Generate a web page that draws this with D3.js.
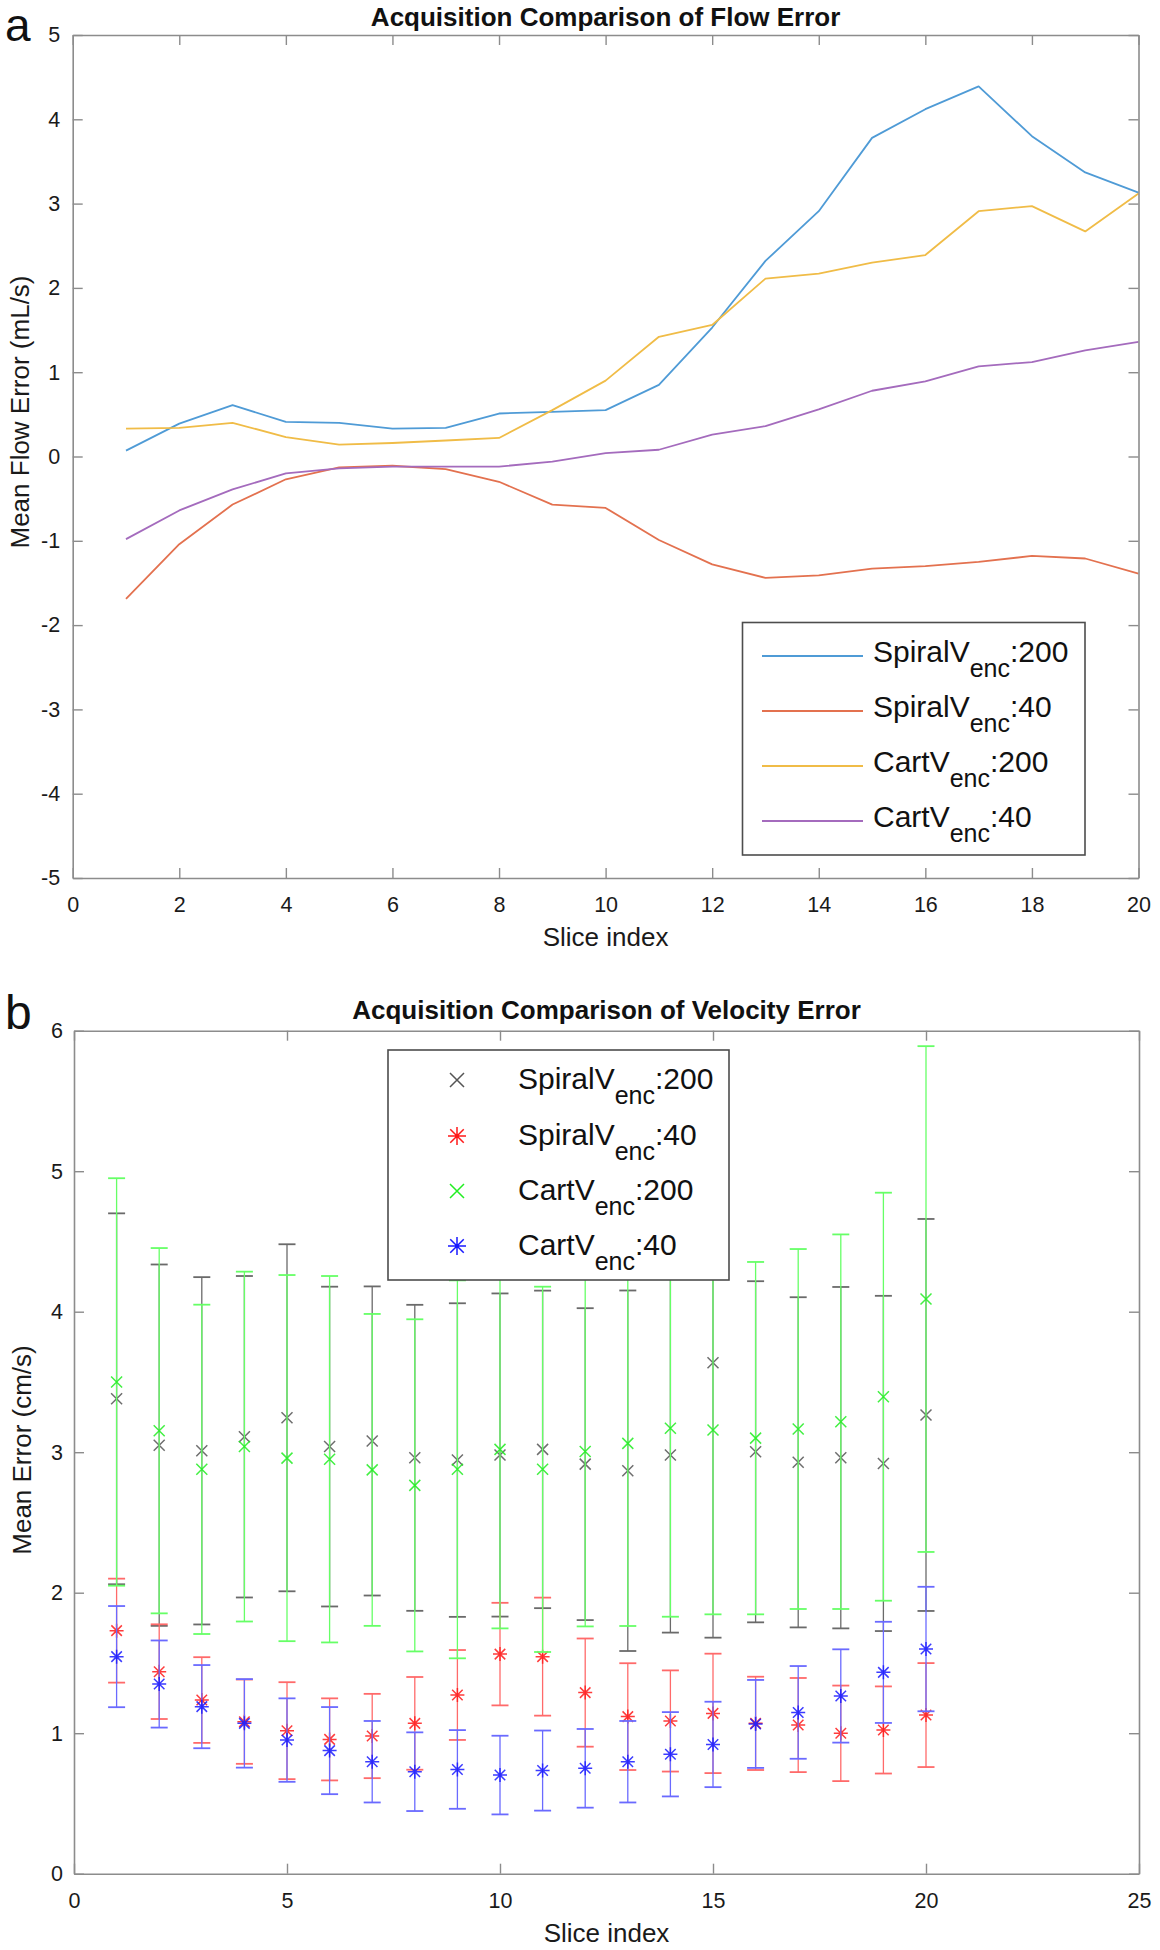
<!DOCTYPE html>
<html><head><meta charset="utf-8">
<script src="https://cdn.jsdelivr.net/npm/d3@7"></script>
<style>
body{margin:0;background:#fff}
svg{display:block}
text{font-family:"Liberation Sans",Arial,Helvetica,sans-serif}
</style>
</head><body>
<svg id="c" width="1160" height="1950"></svg>
<script>
// ---------- DATA ----------
const slices = [1,2,3,4,5,6,7,8,9,10,11,12,13,14,15,16,17,18,19,20];

// Panel a: mean flow error (mL/s)
const flowSpiral200 = [0.07,0.39,0.61,0.41,0.40,0.33,0.34,0.51,0.53,0.55,0.85,1.53,2.32,2.91,3.78,4.12,4.39,3.80,3.37,3.13];
const flowSpiral40  = [-1.69,-1.04,-0.57,-0.27,-0.13,-0.11,-0.15,-0.30,-0.57,-0.61,-0.99,-1.28,-1.44,-1.41,-1.33,-1.30,-1.25,-1.18,-1.21,-1.39];
const flowCart200   = [0.33,0.34,0.40,0.23,0.14,0.16,0.19,0.22,0.55,0.90,1.42,1.56,2.11,2.17,2.30,2.39,2.91,2.97,2.67,3.12];
const flowCart40    = [-0.98,-0.64,-0.39,-0.20,-0.14,-0.12,-0.12,-0.12,-0.06,0.04,0.08,0.26,0.36,0.56,0.78,0.89,1.07,1.12,1.26,1.36];

// Panel b: mean velocity error (cm/s) and symmetric error bar half-widths
const velSpiral200Mean = [3.38,3.05,3.01,3.11,3.245,3.04,3.08,2.96,2.944,2.98,3.02,2.915,2.868,2.98,3.637,3.003,2.928,2.961,2.92,3.265];
const velSpiral200Err  = [1.32,1.286,1.236,1.144,1.235,1.138,1.10,1.089,1.116,1.15,1.13,1.11,1.283,1.264,1.957,1.214,1.175,1.215,1.193,1.395];
const velSpiral40Mean  = [1.73,1.438,1.236,1.082,1.018,0.956,0.98,1.07,1.272,1.563,1.545,1.289,1.118,1.087,1.141,1.07,1.058,0.999,1.023,1.129];
const velSpiral40Err   = [0.37,0.337,0.305,0.30,0.345,0.292,0.30,0.33,0.32,0.365,0.42,0.385,0.38,0.36,0.425,0.332,0.335,0.34,0.31,0.37];
const velCart200Mean   = [3.50,3.153,2.878,3.04,2.958,2.95,2.874,2.764,2.878,3.02,2.878,3.005,3.063,3.17,3.158,3.10,3.165,3.217,3.395,4.09];
const velCart200Err    = [1.45,1.30,1.172,1.245,1.303,1.304,1.11,1.182,1.345,1.274,1.30,1.245,1.30,1.341,1.312,1.254,1.281,1.333,1.452,1.80];
const velCart40Mean    = [1.545,1.35,1.189,1.07,0.951,0.876,0.797,0.726,0.742,0.702,0.734,0.75,0.797,0.85,0.92,1.066,1.148,1.265,1.433,1.599];
const velCart40Err     = [0.36,0.31,0.296,0.315,0.297,0.31,0.29,0.28,0.28,0.28,0.285,0.28,0.29,0.30,0.304,0.313,0.33,0.332,0.36,0.443];

// Tick values
const flowXTicks = [0,2,4,6,8,10,12,14,16,18,20];
const flowYTicks = [-5,-4,-3,-2,-1,0,1,2,3,4,5];
const velXTicks  = [0,5,10,15,20,25];
const velYTicks  = [0,1,2,3,4,5,6];

// Legend labels (base, subscript, suffix)
const legendLabels = [["SpiralV","enc",":200"],["SpiralV","enc",":40"],["CartV","enc",":200"],["CartV","enc",":40"]];

// ---------- STYLE ----------
const axisColor = "#8c8c8c";
const textColor = "#1a1a1a";
const lineColors = ["#4f9bd6","#e3714f","#f0bc47","#a46bbd"];
const velColors  = ["#555555","#ff1a1a","#22ee22","#1a1aff"];
const barColors  = ["#6a6a6a","#ff6a6a","#66ff66","#6a6aff"];
const velMarkers = ["x","*","x","*"];

const svg = d3.select("#c");
svg.append("rect").attr("width",1160).attr("height",1950).attr("fill","#fff");

function drawFrame(g, x, y, xTicks, yTicks, w, h, padX, padY) {
  const fmt = d => String(d);
  g.append("g").attr("transform",`translate(0,${h})`)
    .call(d3.axisBottom(x).tickValues(xTicks).tickSizeInner(-10).tickSizeOuter(0).tickPadding(padX).tickFormat(fmt));
  g.append("g").attr("transform",`translate(0,0)`)
    .call(d3.axisTop(x).tickValues(xTicks).tickSizeInner(-10).tickSizeOuter(0).tickFormat(""));
  g.append("g")
    .call(d3.axisLeft(y).tickValues(yTicks).tickSizeInner(-10).tickSizeOuter(0).tickPadding(padY).tickFormat(fmt));
  g.append("g").attr("transform",`translate(${w},0)`)
    .call(d3.axisRight(y).tickValues(yTicks).tickSizeInner(-10).tickSizeOuter(0).tickFormat(""));
  g.selectAll(".domain").attr("stroke",axisColor).attr("stroke-width",1.6);
  g.selectAll(".tick line").attr("stroke",axisColor).attr("stroke-width",1.4);
  g.selectAll(".tick text").attr("fill",textColor).attr("font-size",21.5)
    .attr("font-family","'Liberation Sans',Arial,sans-serif");
}

function legendText(sel, lab) {
  const t = sel.append("text").attr("font-size",30).attr("fill","#111");
  t.append("tspan").text(lab[0]);
  t.append("tspan").attr("font-size",25).attr("dy",15).text(lab[1]);
  t.append("tspan").attr("dy",-15).text(lab[2]);
  return t;
}

// ================= PANEL A =================
{
  const L = 72.7, T = 35, R = 1138.5, B = 878;
  const w = R - L, h = B - T;
  const g = svg.append("g").attr("transform",`translate(${L},${T})`);
  const x = d3.scaleLinear().domain([0,20]).range([0,w]);
  const y = d3.scaleLinear().domain([-5,5]).range([h,0]);

  const series = [flowSpiral200, flowSpiral40, flowCart200, flowCart40];
  const line = d3.line().x((d,i)=>x(slices[i])).y(d=>y(d));
  series.forEach((s,k)=>{
    g.append("path").datum(s).attr("d",line).attr("fill","none")
      .attr("stroke",lineColors[k]).attr("stroke-width",1.8).attr("stroke-linejoin","round");
  });

  drawFrame(g, x, y, flowXTicks, flowYTicks, w, h, 19, 12.5);

  // legend
  const lg = svg.append("g");
  lg.append("rect").attr("x",742.5).attr("y",622.5).attr("width",342.5).attr("height",232.5)
    .attr("fill","#fff").attr("stroke","#4d4d4d").attr("stroke-width",1.6);
  const rowY = [656,711,766,821];
  legendLabels.forEach((lab,k)=>{
    lg.append("line").attr("x1",762).attr("x2",863).attr("y1",rowY[k]).attr("y2",rowY[k])
      .attr("stroke",lineColors[k]).attr("stroke-width",1.8);
    legendText(lg, lab).attr("x",873).attr("y",rowY[k]+6);
  });

  svg.append("text").attr("x",(L+R)/2).attr("y",26).attr("text-anchor","middle")
    .attr("font-size",26).attr("font-weight","bold").attr("fill","#111")
    .text("Acquisition Comparison of Flow Error");
  svg.append("text").attr("x",(L+R)/2).attr("y",946).attr("text-anchor","middle")
    .attr("font-size",26).attr("fill",textColor).text("Slice index");
  svg.append("text").attr("transform","translate(29,412) rotate(-90)").attr("text-anchor","middle")
    .attr("font-size",26).attr("fill",textColor).text("Mean Flow Error (mL/s)");
  svg.append("text").attr("x",5).attr("y",41).attr("font-size",46).attr("fill","#111").text("a");
}

// ================= PANEL B =================
{
  const L = 74, T = 1030.7, R = 1139, B = 1873.7;
  const w = R - L, h = B - T;
  const g = svg.append("g").attr("transform",`translate(${L},${T})`);
  const x = d3.scaleLinear().domain([0,25]).range([0,w]);
  const y = d3.scaleLinear().domain([0,6]).range([h,0]);

  const means = [velSpiral200Mean, velSpiral40Mean, velCart200Mean, velCart40Mean];
  const errs  = [velSpiral200Err, velSpiral40Err, velCart200Err, velCart40Err];
  const cap = 8.5;

  function marker(sel, type, cx, cy, color, s) {
    if (type === "x") {
      sel.append("path").attr("d",`M${cx-s},${cy-s}L${cx+s},${cy+s}M${cx-s},${cy+s}L${cx+s},${cy-s}`)
        .attr("stroke",color).attr("stroke-width",1.5).attr("fill","none");
    } else {
      const d = s*0.75;
      sel.append("path").attr("d",`M${cx},${cy-s}L${cx},${cy+s}M${cx-s},${cy}L${cx+s},${cy}M${cx-d},${cy-d}L${cx+d},${cy+d}M${cx-d},${cy+d}L${cx+d},${cy-d}`)
        .attr("stroke",color).attr("stroke-width",1.5).attr("fill","none");
      sel.append("circle").attr("cx",cx).attr("cy",cy).attr("r",2).attr("fill",color);
    }
  }

  means.forEach((m,k)=>{
    const sg = g.append("g");
    const bars = sg.append("g").attr("stroke",barColors[k]).attr("stroke-width",1.3);
    m.forEach((v,i)=>{
      const cx = x(slices[i]);
      const lo = y(v - errs[k][i]), hi = y(v + errs[k][i]);
      bars.append("line").attr("x1",cx).attr("x2",cx).attr("y1",lo).attr("y2",hi);
      bars.append("line").attr("x1",cx-cap).attr("x2",cx+cap).attr("y1",lo).attr("y2",lo).attr("stroke-width",1.8);
      bars.append("line").attr("x1",cx-cap).attr("x2",cx+cap).attr("y1",hi).attr("y2",hi).attr("stroke-width",1.8);
    });
    const mk = sg.append("g").attr("opacity",0.85);
    m.forEach((v,i)=>{
      marker(mk, velMarkers[k], x(slices[i]), y(v), velColors[k], velMarkers[k]==="x"?5.5:7);
    });
  });

  drawFrame(g, x, y, velXTicks, velYTicks, w, h, 19, 11);

  // legend
  const lg = svg.append("g");
  lg.append("rect").attr("x",388).attr("y",1050).attr("width",341).attr("height",230)
    .attr("fill","#fff").attr("stroke","#4d4d4d").attr("stroke-width",1.6);
  const rowY = [1080,1136,1191,1246];
  legendLabels.forEach((lab,k)=>{
    marker(lg, velMarkers[k], 457, rowY[k], velColors[k], velMarkers[k]==="x"?7:9);
    legendText(lg, lab).attr("x",518).attr("y",rowY[k]+9);
  });

  svg.append("text").attr("x",(L+R)/2).attr("y",1019).attr("text-anchor","middle")
    .attr("font-size",26).attr("font-weight","bold").attr("fill","#111")
    .text("Acquisition Comparison of Velocity Error");
  svg.append("text").attr("x",(L+R)/2).attr("y",1942).attr("text-anchor","middle")
    .attr("font-size",26).attr("fill",textColor).text("Slice index");
  svg.append("text").attr("transform","translate(31,1450) rotate(-90)").attr("text-anchor","middle")
    .attr("font-size",26).attr("fill",textColor).text("Mean Error (cm/s)");
  svg.append("text").attr("x",5).attr("y",1029).attr("font-size",48).attr("fill","#111").text("b");
}
</script>
</body></html>
